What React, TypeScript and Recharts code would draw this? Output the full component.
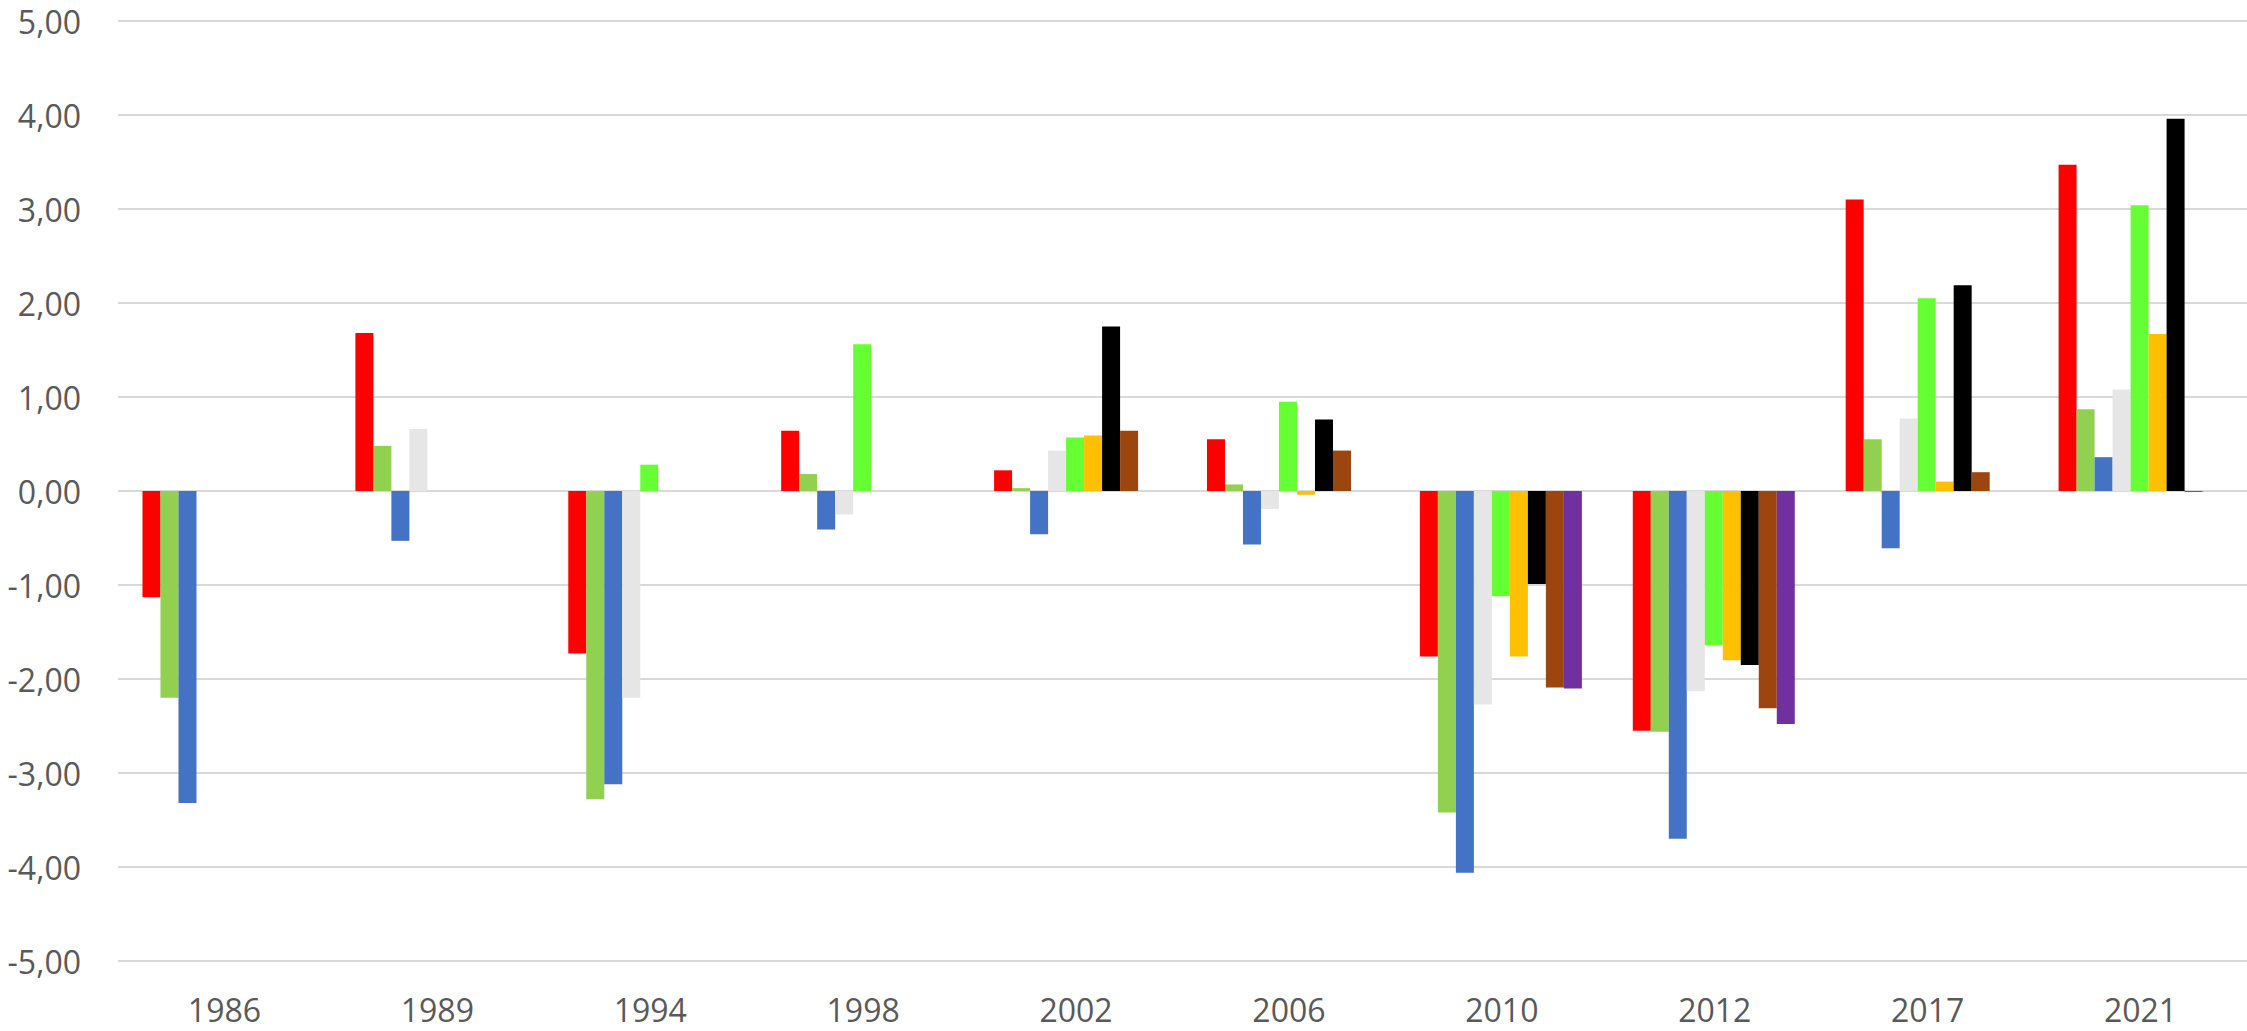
import { BarChart, Bar, XAxis, YAxis, CartesianGrid } from 'recharts';

const years = ['1986', '1989', '1994', '1998', '2002', '2006', '2010', '2012', '2017', '2021'];

const redVals = [-1.13, 1.68, -1.73, 0.64, 0.22, 0.55, -1.76, -2.55, 3.1, 3.47];
const lightGreenVals = [-2.2, 0.48, -3.28, 0.18, 0.03, 0.07, -3.42, -2.56, 0.55, 0.87];
const blueVals = [-3.32, -0.53, -3.12, -0.41, -0.46, -0.57, -4.06, -3.7, -0.61, 0.36];
const greyVals = [null, 0.66, -2.2, -0.25, 0.43, -0.19, -2.27, -2.13, 0.77, 1.08];
const limeVals = [null, null, 0.28, 1.56, 0.57, 0.95, -1.12, -1.64, 2.05, 3.04];
const orangeVals = [null, null, null, null, 0.59, -0.04, -1.76, -1.8, 0.1, 1.67];
const blackVals = [null, null, null, null, 1.75, 0.76, -0.99, -1.85, 2.19, 3.96];
const brownVals = [null, null, null, null, 0.64, 0.43, -2.09, -2.31, 0.2, -0.01];
const purpleVals = [null, null, null, null, null, null, -2.1, -2.48, null, null];

const yTicks = [-5, -4, -3, -2, -1, 0, 1, 2, 3, 4, 5];

const series = [
  { key: 's1', values: redVals, color: '#FF0000' },
  { key: 's2', values: lightGreenVals, color: '#92D050' },
  { key: 's3', values: blueVals, color: '#4472C4' },
  { key: 's4', values: greyVals, color: '#E7E6E6' },
  { key: 's5', values: limeVals, color: '#66FF33' },
  { key: 's6', values: orangeVals, color: '#FFC000' },
  { key: 's7', values: blackVals, color: '#000000' },
  { key: 's8', values: brownVals, color: '#9C450E' },
  { key: 's9', values: purpleVals, color: '#7030A0' },
];

const data = years.map((year, i) => {
  const row: Record<string, string | number | null> = { year };
  series.forEach(s => {
    row[s.key] = s.values[i];
  });
  return row;
});

const font = '"Open Sans", "Noto Sans", sans-serif';

const YTick = (props: any) => {
  const { y, payload } = props;
  return (
    <text x={81} y={y} textAnchor="end" dominantBaseline="central" fill="#595959" fontSize={32} fontFamily={font}>
      {Number(payload.value).toFixed(2).replace('.', ',')}
    </text>
  );
};

const XTick = (props: any) => {
  const { x, payload } = props;
  return (
    <text x={x} y={1009} textAnchor="middle" dominantBaseline="central" fill="#595959" fontSize={32} fontFamily={font}>
      {payload.value}
    </text>
  );
};

export default function App() {
  return (
    <div style={{ position: 'absolute', left: 0, top: 0, background: '#fff' }}>
      <BarChart
        width={2247}
        height={1031}
        data={data}
        margin={{ top: 21, right: 0, bottom: 0, left: 0 }}
        barCategoryGap="11.5%"
        barGap={0}
      >
        <CartesianGrid vertical={false} stroke="#D9D9D9" strokeWidth={2} />
        <XAxis dataKey="year" height={70} axisLine={false} tickLine={false} tick={<XTick />} interval={0} />
        <YAxis
          width={118}
          domain={[-5, 5]}
          ticks={yTicks}
          axisLine={false}
          tickLine={false}
          tick={<YTick />}
          allowDataOverflow
        />
        {series.map(s => (
          <Bar key={s.key} dataKey={s.key} fill={s.color} isAnimationActive={false} />
        ))}
      </BarChart>
    </div>
  );
}
